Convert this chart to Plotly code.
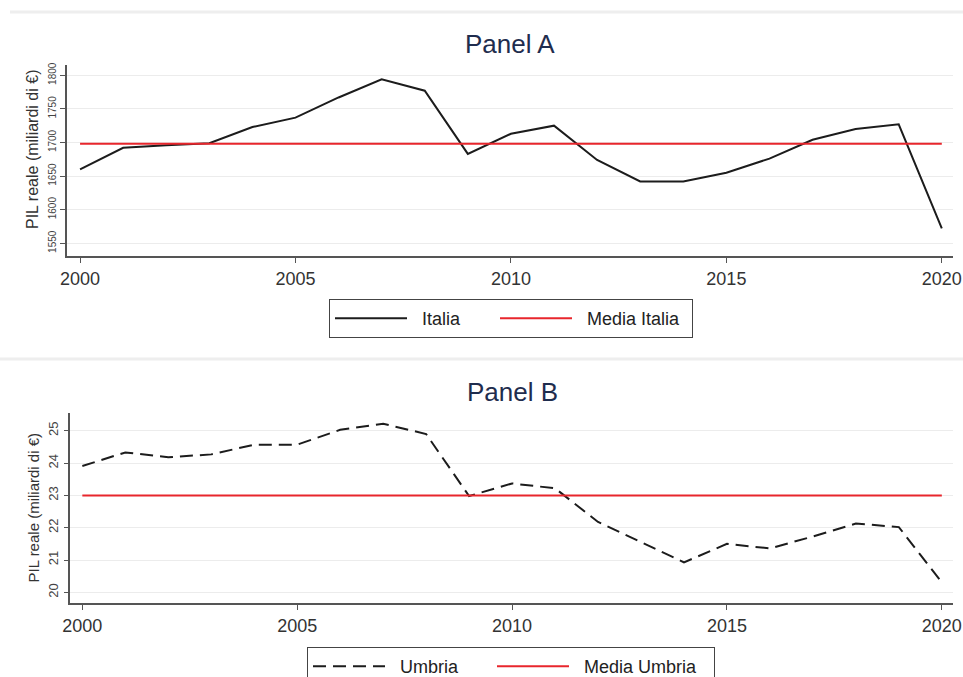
import plotly.graph_objects as go

# Anni osservati
anni = list(range(2000, 2021))

# PIL reale Italia (miliardi di euro)
pil_italia = [1660, 1692, 1696, 1699, 1723, 1737, 1767, 1794, 1777, 1683,
              1713, 1725, 1674, 1642, 1642, 1655, 1676, 1704, 1720, 1727, 1572]
media_italia = 1698

# PIL reale Umbria (miliardi di euro)
pil_umbria = [23.91, 24.33, 24.18, 24.27, 24.57, 24.57, 25.03, 25.22, 24.90, 22.98,
              23.37, 23.22, 22.18, 21.56, 20.93, 21.50, 21.36, 21.73, 22.13, 22.02, 20.31]
media_umbria = 23.0

# Etichette degli assi
x_ticks = [2000, 2005, 2010, 2015, 2020]
y_ticks_a = [1550, 1600, 1650, 1700, 1750, 1800]
y_ticks_b = [20, 21, 22, 23, 24, 25]
y_title = "PIL reale (miliardi di €)"

W, H = 963, 677
FONT = "Liberation Sans, Arial, sans-serif"
NAVY = "#1f2d4e"
AXIS = "#555555"
GRID = "#ececec"
RED = "#e8262c"
BLACK = "#1c1c1c"
PAD = "\u00a0\u00a0"  # spazio tra campione di linea e testo in legenda


def px(x):
    return x / W


def py(y):
    return 1 - y / H


fig = go.Figure()

fig.add_trace(go.Scatter(x=anni, y=pil_italia, mode="lines", name=PAD + "Italia",
                         line=dict(color=BLACK, width=2), legendwidth=78,
                         xaxis="x", yaxis="y", legend="legend"))
fig.add_trace(go.Scatter(x=anni, y=[media_italia] * len(anni), mode="lines",
                         name=PAD + "Media Italia", line=dict(color=RED, width=2),
                         legendwidth=110, xaxis="x", yaxis="y", legend="legend"))
fig.add_trace(go.Scatter(x=anni, y=pil_umbria, mode="lines", name=PAD + "Umbria",
                         line=dict(color=BLACK, width=2, dash="13px,7px"),
                         legendwidth=97, xaxis="x2", yaxis="y2", legend="legend2"))
fig.add_trace(go.Scatter(x=anni, y=[media_umbria] * len(anni), mode="lines",
                         name=PAD + "Media Umbria", line=dict(color=RED, width=2),
                         legendwidth=135, xaxis="x2", yaxis="y2", legend="legend2"))

xaxis_common = dict(
    tickvals=x_ticks, ticks="outside", ticklen=6, tickcolor=AXIS, tickwidth=1.2,
    showline=True, linecolor=AXIS, linewidth=1.5, showgrid=False, zeroline=False,
    tickfont=dict(family=FONT, size=18, color="#333333"), fixedrange=True,
)
yaxis_common = dict(
    ticks="outside", ticklen=5, tickcolor=AXIS, tickwidth=1.2, tickangle=-90,
    showline=True, linecolor=AXIS, linewidth=1.5, showgrid=True, gridcolor=GRID,
    gridwidth=1, zeroline=False, fixedrange=True,
)

legend_common = dict(
    orientation="h", xanchor="left", yanchor="top",
    bordercolor="#444444", borderwidth=1, bgcolor="white",
    font=dict(family=FONT, size=18, color="#222222"), itemwidth=72,
    itemclick=False, itemdoubleclick=False,
)

fig.update_layout(
    width=W, height=H,
    margin=dict(l=0, r=0, t=0, b=0, autoexpand=False),
    paper_bgcolor="white", plot_bgcolor="white",
    font=dict(family=FONT),
    showlegend=True,
    xaxis=dict(xaxis_common, domain=[px(66.7), px(953)], range=[1999.69, 2020.26], anchor="y"),
    yaxis=dict(yaxis_common, domain=[py(255.7), py(65)], range=[1531.5, 1815.3],
               tickvals=y_ticks_a, tickfont=dict(family=FONT, size=10, color="#444444"),
               anchor="x"),
    xaxis2=dict(xaxis_common, domain=[px(70.3), px(953)], range=[1999.72, 2020.26], anchor="y2"),
    yaxis2=dict(yaxis_common, domain=[py(602.7), py(412.7)], range=[19.68, 25.56],
                tickvals=y_ticks_b, tickfont=dict(family=FONT, size=13, color="#444444"),
                anchor="x2"),
    legend=dict(legend_common, x=px(329), y=py(299)),
    legend2=dict(legend_common, x=px(307), y=py(647)),
    annotations=[
        dict(text="Panel A", x=px(510), y=py(44), xref="paper", yref="paper",
             showarrow=False, xanchor="center", yanchor="middle",
             font=dict(family=FONT, size=26, color=NAVY)),
        dict(text="Panel B", x=px(512), y=py(392), xref="paper", yref="paper",
             showarrow=False, xanchor="center", yanchor="middle",
             font=dict(family=FONT, size=26, color=NAVY)),
        dict(text=y_title, x=px(33), y=py(150), xref="paper", yref="paper",
             showarrow=False, xanchor="center", yanchor="middle", textangle=-90,
             font=dict(family=FONT, size=16, color="#333333")),
        dict(text=y_title, x=px(33), y=py(507.5), xref="paper", yref="paper",
             showarrow=False, xanchor="center", yanchor="middle", textangle=-90,
             font=dict(family=FONT, size=15, color="#333333")),
    ],
    shapes=[
        dict(type="line", xref="paper", yref="paper", x0=px(10), x1=1,
             y0=py(12), y1=py(12), line=dict(color="#eeeeee", width=3)),
        dict(type="line", xref="paper", yref="paper", x0=0, x1=1,
             y0=py(359), y1=py(359), line=dict(color="#eeeeee", width=3)),
    ],
)

fig.write_html("out.html")
